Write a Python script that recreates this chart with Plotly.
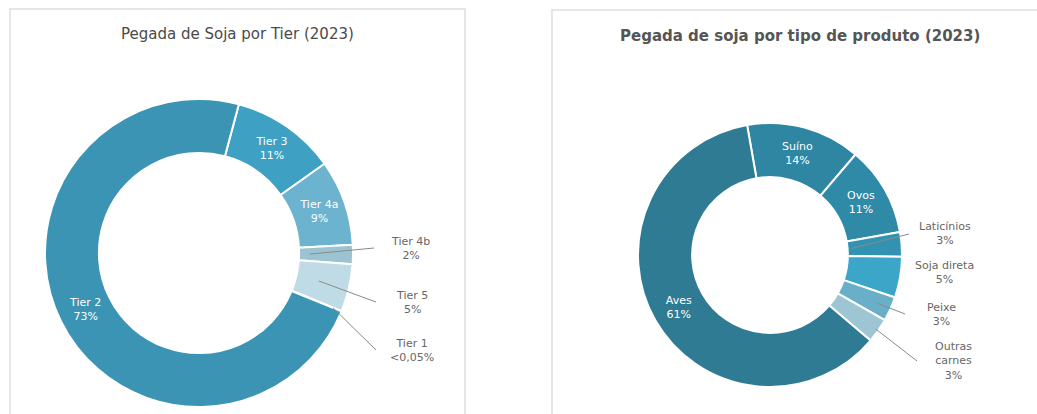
import math
import plotly.graph_objects as go

# ---- data -------------------------------------------------------------
tier_labels = ["Tier 3", "Tier 4a", "Tier 4b", "Tier 5", "Tier 1", "Tier 2"]
tier_values = [11, 9, 2, 5, 0.04, 73]
tier_text = ["11%", "9%", "2%", "5%", "<0,05%", "73%"]
tier_colors = ["#3ea0c3", "#6cb3cf", "#9bc3d1", "#bfdbe5", "#e3eff3", "#3b94b4"]

prod_labels = ["Suíno", "Ovos", "Laticínios", "Soja direta", "Peixe",
               "Outras<br>carnes", "Aves"]
prod_values = [14, 11, 3, 5, 3, 3, 61]
prod_text = ["14%", "11%", "3%", "5%", "3%", "3%", "61%"]
prod_colors = ["#2f86a2", "#2f8aa8", "#3192b1", "#3ca6c8", "#69afc7",
               "#9ec5d3", "#2e7b93"]

# ---- layout geometry (pixels from top-left) ----------------------------
W, H = 1037, 414
FONT = "'DejaVu Sans', sans-serif"

left = dict(cx=199, cy=253, r=154, hole=0.65, rotation=15)
right = dict(cx=770, cy=255, r=132, hole=0.59, rotation=-10)

# slices labelled outside the ring: label centre (x, y) and leader start radius
left_outside = {"Tier 4b": (410, 248, 0.72), "Tier 5": (412, 302, 0.80),
                "Tier 1": (412, 350, 0.94)}
right_outside = {"Laticínios": (945, 234, 0.62), "Soja direta": (944, 272, None),
                 "Peixe": (941, 314, 0.89), "Outras<br>carnes": (953, 361, 0.98)}


def px(x):
    return x / W


def py(y):
    return 1 - y / H


def domain(p):
    return dict(x=[(p["cx"] - p["r"]) / W, (p["cx"] + p["r"]) / W],
                y=[(H - p["cy"] - p["r"]) / H, (H - p["cy"] + p["r"]) / H])


def mid_angles(values, rotation):
    total = sum(values)
    out, acc = [], rotation
    for v in values:
        span = 360 * v / total
        out.append(acc + span / 2)
        acc += span
    return out


def point(p, ang, frac):
    rad = math.radians(ang)
    return p["cx"] + p["r"] * frac * math.sin(rad), p["cy"] - p["r"] * frac * math.cos(rad)


def donut(labels, values, texts, colors, p, outside):
    inner = [("" if lab in outside else f"{lab}<br>{t}") for lab, t in zip(labels, texts)]
    return go.Pie(
        labels=labels, values=values, text=inner, textinfo="text",
        textposition="inside", insidetextorientation="horizontal",
        textfont=dict(family=FONT, size=11, color="white"),
        marker=dict(colors=colors, line=dict(color="white", width=2)),
        hole=p["hole"], sort=False, direction="clockwise",
        rotation=p["rotation"], domain=domain(p), showlegend=False,
        hoverinfo="label+text",
    )


fig = go.Figure()
fig.add_trace(donut(tier_labels, tier_values, tier_text, tier_colors, left, left_outside))
fig.add_trace(donut(prod_labels, prod_values, prod_text, prod_colors, right, right_outside))

shapes, annotations = [], []

# panel frames
shapes.append(dict(type="rect", xref="paper", yref="paper",
                   x0=px(10), y0=py(9), x1=px(465), y1=py(430),
                   line=dict(color="#dedede", width=1.5), layer="below"))
shapes.append(dict(type="rect", xref="paper", yref="paper",
                   x0=px(552), y0=py(10), x1=px(1050), y1=py(430),
                   line=dict(color="#dedede", width=1.5), layer="below"))

# titles
annotations.append(dict(xref="paper", yref="paper", x=px(237), y=py(34),
                        text="Pegada de Soja por Tier (2023)",
                        showarrow=False, font=dict(family=FONT, size=15, color="#4a4a4a"),
                        xanchor="center", yanchor="middle"))
annotations.append(dict(xref="paper", yref="paper", x=px(800), y=py(36),
                        text="Pegada de soja por tipo de produto (2023)",
                        showarrow=False,
                        font=dict(family=FONT, size=15, color="#555555", weight=600),
                        xanchor="center", yanchor="middle"))


def outside_labels(labels, values, texts, p, outside):
    angs = mid_angles(values, p["rotation"])
    for lab, t, ang in zip(labels, texts, angs):
        if lab not in outside:
            continue
        lx, ly, frac = outside[lab]
        annotations.append(dict(xref="paper", yref="paper", x=px(lx), y=py(ly),
                                text=f"{lab}<br>{t}", showarrow=False,
                                align="center", xanchor="center", yanchor="middle",
                                font=dict(family=FONT, size=11, color="#666666")))
        if frac is not None:
            sx, sy = point(p, ang, frac)
            ex = lx - 36
            shapes.append(dict(type="line", xref="paper", yref="paper",
                               x0=px(sx), y0=py(sy), x1=px(ex), y1=py(ly),
                               line=dict(color="#8a8a8a", width=1)))


outside_labels(tier_labels, tier_values, tier_text, left, left_outside)
outside_labels(prod_labels, prod_values, prod_text, right, right_outside)

fig.update_layout(
    width=W, height=H, autosize=False,
    margin=dict(l=0, r=0, t=0, b=0),
    paper_bgcolor="white", plot_bgcolor="rgba(0,0,0,0)",
    shapes=shapes, annotations=annotations,
)

fig.write_html("out.html")
